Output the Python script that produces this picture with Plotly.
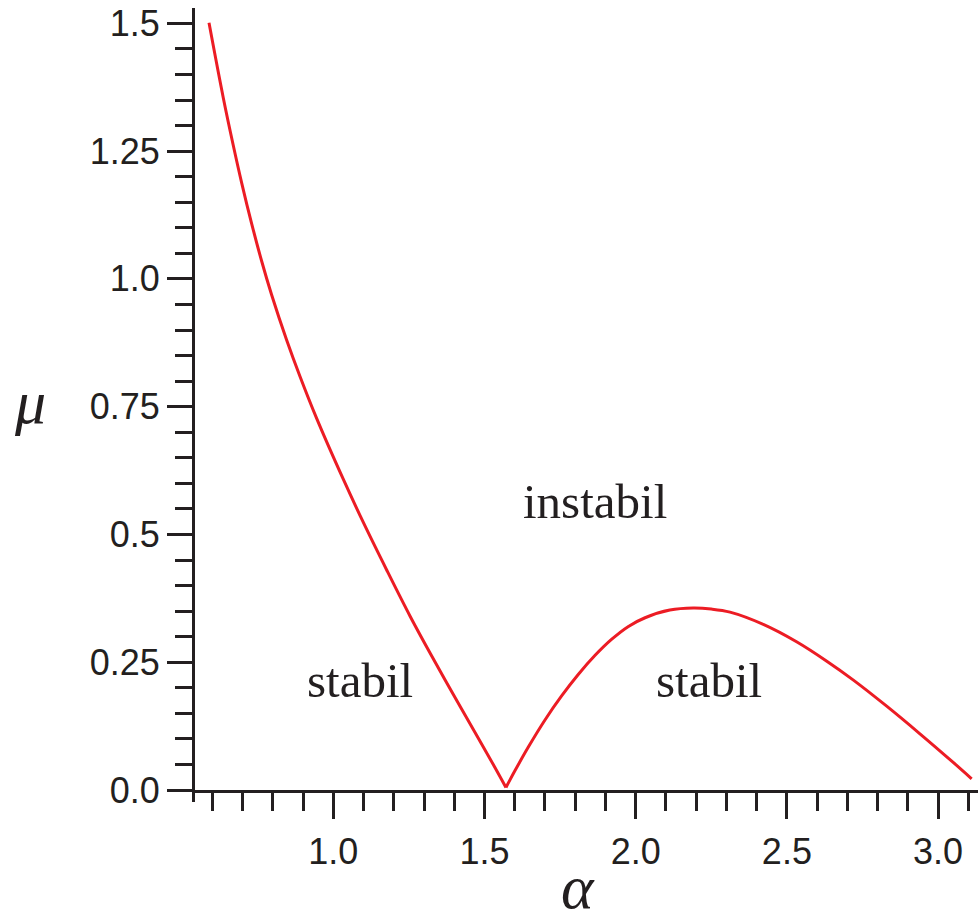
import plotly.graph_objects as go

# Stability boundary mu(alpha): branch left of the cusp and branch right of it
alpha_left = [0.589, 0.636, 0.669, 0.697, 0.730, 0.763, 0.796, 0.846, 0.890, 0.945,
              1.033, 1.099, 1.177, 1.254, 1.320, 1.397, 1.474, 1.529, 1.571]
mu_left = [1.501, 1.355, 1.262, 1.188, 1.108, 1.035, 0.969, 0.880, 0.809, 0.727,
           0.608, 0.524, 0.430, 0.340, 0.268, 0.187, 0.107, 0.050, 0.005]

alpha_right = [1.571, 1.601, 1.645, 1.700, 1.755, 1.810, 1.865, 1.921, 1.976, 2.031,
               2.113, 2.190, 2.250, 2.312, 2.422, 2.532, 2.632, 2.720, 2.830, 2.940,
               3.050, 3.111]
mu_right = [0.005, 0.038, 0.084, 0.137, 0.184, 0.226, 0.263, 0.295, 0.320, 0.337,
            0.352, 0.356, 0.354, 0.348, 0.324, 0.290, 0.252, 0.215, 0.164, 0.110,
            0.054, 0.022]

x_tick_vals = [1.0, 1.5, 2.0, 2.5, 3.0]
x_tick_text = ["1.0", "1.5", "2.0", "2.5", "3.0"]
y_tick_vals = [0.0, 0.25, 0.5, 0.75, 1.0, 1.25, 1.5]
y_tick_text = ["0.0", "0.25", "0.5", "0.75", "1.0", "1.25", "1.5"]

INK = "#231f20"
RED = "#ec1c24"
SANS = "Liberation Sans, Arial, sans-serif"
SERIF = "Liberation Serif, Times New Roman, serif"

fig = go.Figure()
for xs, ys in ((alpha_left, mu_left), (alpha_right, mu_right)):
    fig.add_trace(go.Scatter(
        x=xs, y=ys, mode="lines",
        line=dict(color=RED, width=3, shape="spline", smoothing=1.0),
        showlegend=False, hoverinfo="skip",
    ))

axis_common = dict(
    showline=True, linecolor=INK, linewidth=3,
    ticks="outside", tickwidth=3, tickcolor=INK,
    tickfont=dict(family=SANS, size=36, color=INK),
    showgrid=False, zeroline=False,
)

fig.update_xaxes(
    range=[0.5427, 3.132],
    tickmode="array", tickvals=x_tick_vals, ticktext=x_tick_text,
    ticklen=26, ticklabelstandoff=2,
    minor=dict(ticks="outside", ticklen=18, tickwidth=3, tickcolor=INK,
               tick0=0, dtick=0.1, showgrid=False),
    **axis_common,
)
fig.update_yaxes(
    range=[0, 1.530],
    tickmode="array", tickvals=y_tick_vals, ticktext=y_tick_text,
    ticklen=25,
    minor=dict(ticks="outside", ticklen=17, tickwidth=3, tickcolor=INK,
               tick0=0, dtick=0.05, showgrid=False),
    **axis_common,
)

# short stub of the vertical axis below the horizontal one
fig.add_shape(
    type="line", xref="paper", yref="paper",
    xsizemode="pixel", ysizemode="pixel", xanchor=0, yanchor=0,
    x0=-1.5, x1=-1.5, y0=0, y1=-12,
    line=dict(color=INK, width=3),
)

region_font = dict(family=SERIF, size=49, color=INK)
fig.add_annotation(text="instabil", x=1.865, y=0.564, xref="x", yref="y",
                   xanchor="center", yanchor="middle",
                   showarrow=False, font=region_font)
fig.add_annotation(text="stabil", x=1.088, y=0.214, xref="x", yref="y",
                   xanchor="center", yanchor="middle",
                   showarrow=False, font=region_font)
fig.add_annotation(text="stabil", x=2.241, y=0.214, xref="x", yref="y",
                   xanchor="center", yanchor="middle",
                   showarrow=False, font=region_font)

title_font = dict(family=SERIF, size=62, color=INK, style="italic")
fig.add_annotation(text="μ", x=-0.2107, y=0.4968, xref="paper", yref="paper",
                   xanchor="center", yanchor="middle",
                   showarrow=False, font=title_font)
fig.add_annotation(text="α", x=0.4891, y=-0.1240, xref="paper", yref="paper",
                   xanchor="center", yanchor="middle",
                   showarrow=False, font=title_font)

fig.update_layout(
    width=978, height=920,
    margin=dict(l=195, r=0, t=8, b=130),
    paper_bgcolor="white", plot_bgcolor="white",
)

fig.write_html("out.html")
